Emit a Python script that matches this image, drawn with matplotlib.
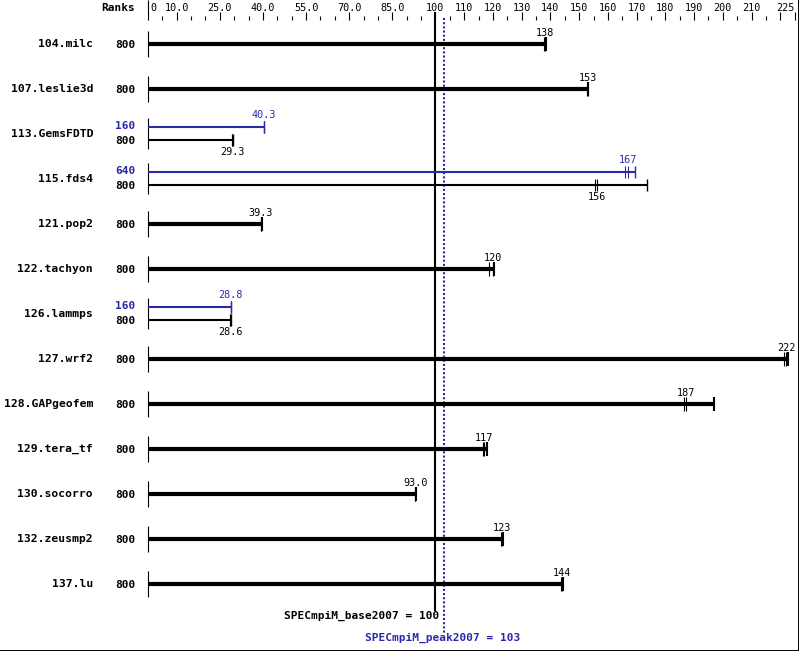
import numpy as np
import matplotlib.pyplot as plt

# benchmark data (ranks, run values, median)
benchmarks = ['104.milc', '107.leslie3d', '113.GemsFDTD', '115.fds4', '121.pop2',
              '122.tachyon', '126.lammps', '127.wrf2', '128.GAPgeofem', '129.tera_tf',
              '130.socorro', '132.zeusmp2', '137.lu']
base_ranks = [800] * 13
base_runs = [[137.9, 138, 138.3], [152.6, 153, 153.2], [29.1, 29.3, 29.4],
             [155.4, 156.1, 173.5], [39.2, 39.3, 39.5], [118.7, 120, 120.3],
             [28.5, 28.6, 28.7], [221.4, 222, 222.6], [186.4, 187.3, 197.0],
             [116.6, 117, 117.8], [92.8, 93.0, 93.1], [122.9, 123, 123.4],
             [143.7, 144, 144.5]]
base_labels = ['138', '153', '29.3', '156', '39.3', '120', '28.6', '222', '187',
               '117', '93.0', '123', '144']
peak_ranks = {2: 160, 3: 640, 6: 160}
peak_runs = {2: [40.2, 40.3, 40.5], 3: [166.0, 167, 169.5], 6: [28.7, 28.8, 28.9]}
peak_labels = {2: '40.3', 3: '167', 6: '28.8'}

base_metric = 100
peak_metric = 103

major_ticks = [10, 25, 40, 55, 70, 85, 100] + list(range(110, 221, 10)) + [225]
tick_labels = ['10.0', '25.0', '40.0', '55.0', '70.0', '85.0', '100'] + \
              [str(v) for v in range(110, 211, 10)]
minor_ticks = [v for v in range(5, 225, 5) if v not in major_ticks]

BLUE = '#2a2aa8'
MONO = 'DejaVu Sans Mono'

fig = plt.figure(figsize=(7.99, 6.51), dpi=100)
ax = fig.add_axes([0, 0, 1, 1])
ax.set_xlim(-51.5, 226.5)
ax.set_ylim(13.49, -0.978)
ax.set_xticks([])
ax.set_yticks([])
ax.spines['top'].set_visible(False)
ax.spines['left'].set_visible(False)
for s in ('right', 'bottom'):
    ax.spines[s].set_linewidth(1.4)

# ruler on top
ax.vlines(major_ticks, -0.711, -0.533, color='black', lw=0.8)
ax.vlines(minor_ticks, -0.622, -0.533, color='black', lw=0.8)
ax.vlines(0, -0.98, -0.533, color='black', lw=0.8)
ax.text(0.8, -0.80, '0', fontsize=7.3, family=MONO, ha='left', va='center')
for v, lab in zip(major_ticks, tick_labels):
    ax.text(v, -0.80, lab, fontsize=7.3, family=MONO, ha='center', va='center')
ax.text(225, -0.80, '225', fontsize=7.3, family=MONO, ha='right', va='center')
ax.text(-4.5, -0.80, 'Ranks', fontsize=8, family=MONO, weight='bold',
        ha='right', va='center')

# reference lines
ax.vlines(base_metric, -0.711, 12.6, color='black', lw=1.5)
ax.vlines(peak_metric, -0.58, 13.1, color=BLUE, lw=1.5, linestyles=(0, (1, 1)))
ax.text(base_metric + 1.3, 12.72, 'SPECmpiM_base2007 = %d' % base_metric, fontsize=8,
        family=MONO, weight='bold', ha='right', va='center')
ax.text(peak_metric - 0.5, 13.2, 'SPECmpiM_peak2007 = %d' % peak_metric, fontsize=8,
        family=MONO, weight='bold', ha='center', va='center', color=BLUE)

for i, name in enumerate(benchmarks):
    ax.text(-19.1, i, name, fontsize=8.2, family=MONO, weight='bold',
            ha='right', va='center')
    if i in peak_runs:
        yp, yb = i - 0.155, i + 0.135
        lw = 1.5
        ax.vlines(0, yp - 0.2, yb + 0.2, color='black', lw=0.8)
        pr = peak_runs[i]
        ax.hlines(yp, 0, max(pr), color=BLUE, lw=lw)
        ax.vlines(pr[:-1], yp - 0.13, yp + 0.13, color=BLUE, lw=0.8)
        ax.vlines(max(pr), yp - 0.13, yp + 0.13, color=BLUE, lw=1.0)
        ax.text(float(np.median(pr)), yp - 0.27, peak_labels[i], fontsize=7.3,
                family=MONO, ha='center', va='center', color=BLUE)
        ax.text(-4.5, yp - 0.02, str(peak_ranks[i]), fontsize=8, family=MONO,
                weight='bold', ha='right', va='center', color=BLUE)
        br = base_runs[i]
        ax.hlines(yb, 0, max(br), color='black', lw=lw)
        ax.vlines(br[:-1], yb - 0.13, yb + 0.13, color='black', lw=0.8)
        ax.vlines(max(br), yb - 0.13, yb + 0.13, color='black', lw=1.0)
        ax.text(float(np.median(br)), yb + 0.27, base_labels[i], fontsize=7.3,
                family=MONO, ha='center', va='center')
        ax.text(-4.5, yb + 0.02, str(base_ranks[i]), fontsize=8, family=MONO,
                weight='bold', ha='right', va='center')
    else:
        ax.vlines(0, i - 0.29, i + 0.29, color='black', lw=0.8)
        br = base_runs[i]
        ax.hlines(i, 0, max(br), color='black', lw=3.0)
        ax.vlines(br[:-1], i - 0.15, i + 0.15, color='black', lw=0.8)
        ax.vlines(max(br), i - 0.15, i + 0.15, color='black', lw=1.5)
        ax.text(float(np.median(br)), i - 0.25, base_labels[i], fontsize=7.3,
                family=MONO, ha='center', va='center')
        ax.text(-4.5, i + 0.02, str(base_ranks[i]), fontsize=8, family=MONO,
                weight='bold', ha='right', va='center')

fig.savefig('out.png', dpi=100)
